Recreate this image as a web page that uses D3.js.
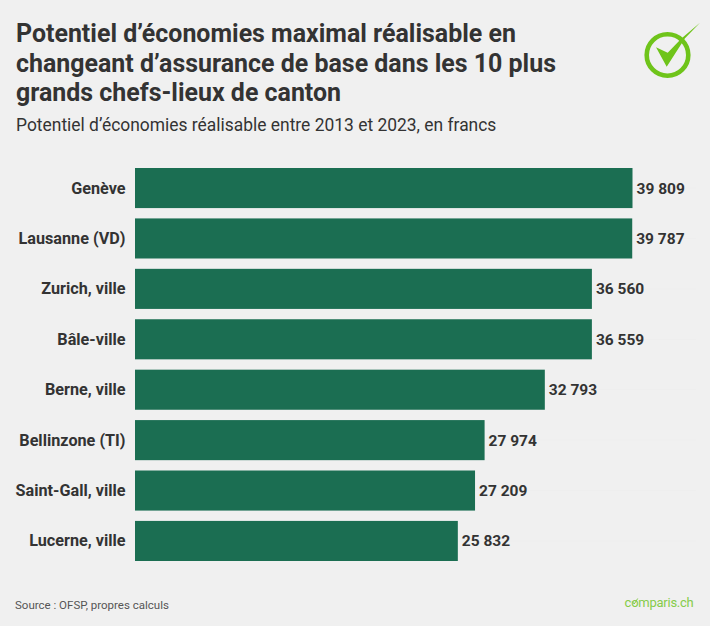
<!DOCTYPE html>
<html>
<head>
<meta charset="utf-8">
<script src="https://cdnjs.cloudflare.com/ajax/libs/d3/7.8.5/d3.min.js"></script>
<style>
    html, body { margin: 0; padding: 0; background: #f0f0f0; }
    svg { display: block; font-family: Roboto, sans-serif; }
</style>
</head>
<body>
<svg id="chart" width="710" height="626"></svg>
<script>
var cities = ['Genève', 'Lausanne (VD)', 'Zurich, ville', 'Bâle-ville', 'Berne, ville', 'Bellinzone (TI)', 'Saint-Gall, ville', 'Lucerne, ville'];
var savings = [39809, 39787, 36560, 36559, 32793, 27974, 27209, 25832];
var titleLines = ['Potentiel d’économies maximal réalisable en', 'changeant d’assurance de base dans les 10 plus', 'grands chefs-lieux de canton'];
var subtitle = 'Potentiel d’économies réalisable entre 2013 et 2023, en francs';
var source = 'Source : OFSP, propres calculs';

var TEXT_COLOR = '#333333';
var BAR_COLOR = '#1b6e52';
var LOGO_GREEN = '#6fc41a';

var svg = d3.select('#chart');

var x = d3.scaleLinear().domain([0, 39809]).range([135, 632.5]);
var y = d3.scaleBand().domain(cities).range([168, 561]).paddingInner(0.205);

// faint row lines behind the bars
svg.selectAll('.row-line').data(cities).enter().append('line')
    .attr('x1', 135).attr('x2', 696)
    .attr('y1', function (d) { return y(d) + y.bandwidth() / 2; })
    .attr('y2', function (d) { return y(d) + y.bandwidth() / 2; })
    .attr('stroke', '#eeeeee');

svg.selectAll('.bar').data(savings).enter().append('rect')
    .attr('x', x(0))
    .attr('y', function (d, i) { return y(cities[i]); })
    .attr('width', function (d) { return x(d) - x(0); })
    .attr('height', y.bandwidth())
    .attr('fill', BAR_COLOR);

svg.selectAll('.city').data(cities).enter().append('text')
    .attr('x', 125.5)
    .attr('y', function (d) { return y(d) + y.bandwidth() / 2 + 5.5; })
    .attr('text-anchor', 'end')
    .attr('font-size', 16.2).attr('font-weight', 700).attr('fill', TEXT_COLOR)
    .text(function (d) { return d; });

svg.selectAll('.value').data(savings).enter().append('text')
    .attr('x', function (d) { return x(d) + 4; })
    .attr('y', function (d, i) { return y(cities[i]) + y.bandwidth() / 2 + 5.5; })
    .attr('font-size', 15.5).attr('font-weight', 700).attr('fill', TEXT_COLOR)
    .text(function (d) { return d3.format(',')(d).replace(',', ' '); });

svg.selectAll('.title').data(titleLines).enter().append('text')
    .attr('x', 16)
    .attr('y', function (d, i) { return 42 + i * 29.5; })
    .attr('font-size', 24.95).attr('font-weight', 700).attr('fill', TEXT_COLOR)
    .text(function (d) { return d; });

svg.append('text').attr('x', 16).attr('y', 131)
    .attr('font-size', 17.43).attr('fill', TEXT_COLOR).text(subtitle);

svg.append('text').attr('x', 15).attr('y', 609)
    .attr('font-size', 11.5).attr('fill', '#555555').text(source);

// comparis check mark
var logo = svg.append('g');
logo.append('circle').attr('cx', 667.5).attr('cy', 55).attr('r', 20.8)
    .attr('fill', 'none').attr('stroke', LOGO_GREEN).attr('stroke-width', 4.6);
logo.append('path')
    .attr('d', 'M656 47.3 L667.7 52.7 L681.7 38.3 L700 22.7 L685 38.3 L666.7 66.7 Z')
    .attr('fill', LOGO_GREEN);

// comparis.ch wordmark, with the small check on the o
var wordmark = svg.append('text').attr('x', 693.5).attr('y', 607)
    .attr('text-anchor', 'end')
    .attr('font-size', 13).attr('letter-spacing', -0.25).attr('fill', '#86cc4a')
    .text('comparis.ch');
var oStart = wordmark.node().getStartPositionOfChar(1).x;
var oEnd = wordmark.node().getEndPositionOfChar(1).x;
var markSize = (oEnd - oStart) / 2;
svg.append('path')
    .attr('transform', 'translate(' + (oStart + markSize) + ',602)')
    .attr('d', 'M-2.5 -0.5 L-0.5 2 L3 -3.5')
    .attr('fill', 'none').attr('stroke', '#86cc4a').attr('stroke-width', 1);
</script>
</body>
</html>
